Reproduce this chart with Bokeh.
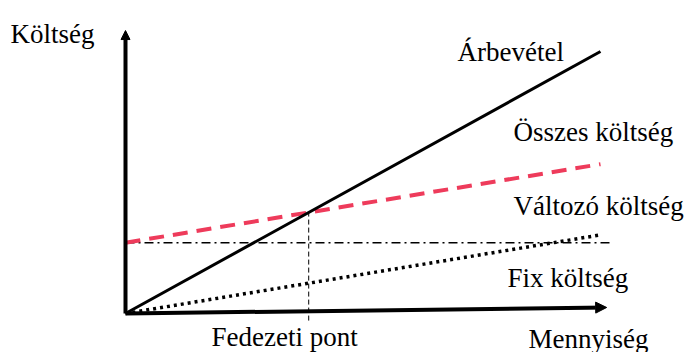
from bokeh.plotting import figure
from bokeh.models import Arrow, NormalHead, Label, Range1d
from bokeh.embed import file_html
from bokeh.resources import INLINE

# ---- data (quantity units / money units) ----
quantity = [0, 10]
revenue = [0, 10]
variable_cost = [0, 3.0]
fixed_level = 2.7
fixed_quantity = [0, 10.27]
total_cost = [fixed_level + v for v in variable_cost]
price_per_unit = (revenue[1] - revenue[0]) / (quantity[1] - quantity[0])
var_per_unit = (variable_cost[1] - variable_cost[0]) / (quantity[1] - quantity[0])
break_even_q = fixed_level / (price_per_unit - var_per_unit)

labels = {
    "y_axis": "Költség",
    "x_axis": "Mennyiség",
    "revenue": "Árbevétel",
    "total": "Összes költség",
    "variable": "Változó költség",
    "fixed": "Fix költség",
    "breakeven": "Fedezeti pont",
}

W, H = 697, 352
X0_PX, Y0_PX = 125, 313          # origin on canvas
SX, SY = 47.5, 26.2              # px per unit

p = figure(width=W, height=H, output_backend="svg", toolbar_location=None,
           min_border=0, min_border_left=0, min_border_right=0,
           min_border_top=0, min_border_bottom=0,
           x_range=Range1d(-X0_PX / SX, (W - X0_PX) / SX),
           y_range=Range1d(-(H - Y0_PX) / SY, Y0_PX / SY))
p.axis.visible = False
p.grid.visible = False
p.outline_line_color = None
p.background_fill_color = "white"
p.border_fill_color = "white"

FONT = "'Liberation Serif', serif"
FS = "27px"

# fixed cost (dash-dot)
p.line(fixed_quantity, [fixed_level, fixed_level], line_color="black",
       line_width=1.3, line_dash="9 4 2 4")
# variable cost (dotted)
p.line(quantity, variable_cost, line_color="black", line_width=3.5,
       line_dash="3 4")
# total cost (red dashed)
p.line(quantity, total_cost, line_color="#EE3B5B", line_width=4,
       line_dash="15 9")
# revenue
p.line(quantity, revenue, line_color="black", line_width=3)
# break-even vertical
p.line([break_even_q, break_even_q], [-0.27, break_even_q * price_per_unit],
       line_color="black", line_width=1, line_dash="5 3")

# axes as arrows
p.add_layout(Arrow(end=NormalHead(size=9, fill_color="black", line_color="black"),
                   x_start=0, y_start=0, x_end=0, y_end=10.8,
                   line_width=4, line_color="black"))
p.add_layout(Arrow(end=NormalHead(size=11, fill_color="black", line_color="black"),
                   x_start=0, y_start=0, x_end=10.13, y_end=0.23,
                   line_width=4, line_color="black"))

def lab(txt, x_px, y_px):
    # position given as canvas pixel of the text's left end / baseline
    p.add_layout(Label(x=(x_px - X0_PX) / SX, y=(Y0_PX - y_px) / SY, text=txt,
                       text_font=FONT, text_font_size=FS,
                       text_color="black", text_baseline="alphabetic",
                       text_align="left"))

lab(labels["y_axis"], 10, 33)
lab(labels["revenue"], 457, 51)
lab(labels["total"], 513, 131)
lab(labels["variable"], 513, 205)
lab(labels["fixed"], 507, 277)
lab(labels["x_axis"], 528, 338)
lab(labels["breakeven"], 211, 336)

open("out.html", "w").write(file_html(p, INLINE))
